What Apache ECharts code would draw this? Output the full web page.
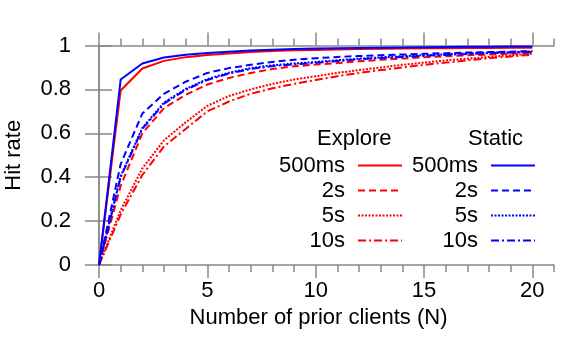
<!DOCTYPE html>
<html>
<head>
<meta charset="utf-8">
<script src="https://cdn.jsdelivr.net/npm/echarts@6/dist/echarts.min.js"></script>
<style>
  html, body { margin: 0; padding: 0; background: #fff; }
  #chart { width: 586px; height: 346px; }
</style>
</head>
<body>
<div id="chart"></div>
<script>
// number of prior clients
var priorClients = [0, 1, 2, 3, 4, 5, 6, 7, 8, 9, 10, 11, 12, 13, 14, 15, 16, 17, 18, 19, 20];

// Explore (red)
var explore500ms = [0, 0.795, 0.895, 0.93, 0.947, 0.957, 0.964, 0.97, 0.975, 0.978, 0.98, 0.982, 0.984, 0.985, 0.986, 0.987, 0.988, 0.989, 0.989, 0.99, 0.99];
var explore2s = [0, 0.36, 0.60, 0.715, 0.775, 0.822, 0.852, 0.875, 0.893, 0.905, 0.913, 0.92, 0.928, 0.935, 0.941, 0.946, 0.951, 0.955, 0.959, 0.963, 0.966];
var explore5s = [0, 0.25, 0.44, 0.568, 0.65, 0.725, 0.77, 0.80, 0.825, 0.845, 0.86, 0.875, 0.888, 0.90, 0.912, 0.922, 0.932, 0.94, 0.948, 0.956, 0.963];
var explore10s = [0, 0.23, 0.41, 0.54, 0.62, 0.70, 0.745, 0.78, 0.805, 0.825, 0.843, 0.86, 0.875, 0.888, 0.90, 0.912, 0.922, 0.932, 0.942, 0.95, 0.958];

// Static (blue)
var static500ms = [0, 0.845, 0.918, 0.945, 0.958, 0.966, 0.972, 0.977, 0.981, 0.984, 0.986, 0.988, 0.989, 0.99, 0.991, 0.992, 0.993, 0.994, 0.994, 0.995, 0.995];
var static2s = [0, 0.46, 0.69, 0.78, 0.835, 0.875, 0.897, 0.912, 0.925, 0.935, 0.942, 0.948, 0.952, 0.956, 0.959, 0.962, 0.965, 0.968, 0.97, 0.972, 0.975];
var static5s = [0, 0.405, 0.625, 0.74, 0.802, 0.847, 0.876, 0.897, 0.91, 0.918, 0.925, 0.933, 0.94, 0.946, 0.951, 0.956, 0.96, 0.964, 0.967, 0.97, 0.973];
var static10s = [0, 0.40, 0.62, 0.735, 0.798, 0.843, 0.872, 0.893, 0.906, 0.914, 0.921, 0.929, 0.937, 0.943, 0.948, 0.953, 0.957, 0.961, 0.965, 0.968, 0.971];

var xMajorTicks = [0, 5, 10, 15, 20];
var xMinorTicks = [0, 1, 2, 3, 4, 5, 6, 7, 8, 9, 10, 11, 12, 13, 14, 15, 16, 17, 18, 19, 20, 21];
var yTicks = [0, 0.2, 0.4, 0.6, 0.8, 1];

var font = 'Liberation Sans, Arial, sans-serif';
var frame = { show: true, lineStyle: { color: '#888', width: 1.5 } };
var tickStyle = { color: '#888', width: 1.5 };

function pairs(vals) {
  return vals.map(function (v, i) { return [priorClients[i], v]; });
}

function line(name, vals, color, dash) {
  return {
    name: name,
    type: 'line',
    data: pairs(vals),
    symbol: 'none',
    lineStyle: { color: color, width: 2, type: dash },
    itemStyle: { color: color },
    animation: false
  };
}

function xAxis(pos, ticks, len, showLine, showLabel) {
  return {
    type: 'value',
    position: pos,
    min: 0,
    max: 21,
    axisLine: showLine ? frame : { show: false },
    axisTick: { show: true, inside: false, length: len, customValues: ticks, lineStyle: tickStyle },
    axisLabel: showLabel ? { show: true, customValues: xMajorTicks, fontSize: 22, fontFamily: font, color: '#000', margin: 15 } : { show: false },
    splitLine: { show: false }
  };
}

var chart = echarts.init(document.getElementById('chart'));
var dashed = [7, 4];
var dotted = [2, 1.5];
var dashDot = [8, 3, 2, 3];

var legendBase = {
  orient: 'vertical',
  align: 'right',
  itemWidth: 44,
  itemHeight: 14,
  itemGap: 0,
  selectedMode: false,
  itemStyle: { opacity: 0 },
  formatter: function (name) { return name.split(' ')[1]; },
  textStyle: { fontSize: 22, fontFamily: font, color: '#000', lineHeight: 25, padding: [0, 8, 0, 0] }
};

chart.setOption({
  animation: false,
  textStyle: { fontFamily: font },
  grid: { left: 99, right: 32, top: 45.5, bottom: 81, containLabel: false, outerBoundsMode: 'none' },
  xAxis: [
    Object.assign(xAxis('bottom', xMinorTicks, 7, true, true), {
      name: 'Number of prior clients (N)',
      nameLocation: 'middle',
      nameGap: 32,
      nameTextStyle: { fontSize: 22, fontFamily: font, color: '#000', padding: [0, 16, 0, 0] }
    }),
    xAxis('bottom', xMajorTicks, 13, false, false),
    xAxis('top', xMinorTicks, 7, true, false),
    xAxis('top', xMajorTicks, 13, false, false)
  ],
  yAxis: [
    {
      type: 'value', position: 'left', min: 0, max: 1, interval: 0.2,
      axisLine: frame,
      axisTick: { show: true, length: 14, customValues: yTicks, lineStyle: tickStyle },
      axisLabel: { fontSize: 22, fontFamily: font, color: '#000', margin: 28 },
      splitLine: { show: false },
      name: 'Hit rate',
      nameLocation: 'middle',
      nameGap: 74,
      nameTextStyle: { fontSize: 22, fontFamily: font, color: '#000' }
    },
    {
      type: 'value', position: 'right', min: 0, max: 1, interval: 0.2,
      axisLine: frame,
      axisTick: { show: true, length: 13, customValues: yTicks, lineStyle: tickStyle },
      axisLabel: { show: false },
      splitLine: { show: false }
    }
  ],
  legend: [
    Object.assign({}, legendBase, {
      left: 274, top: 148,
      data: ['Explore 500ms', 'Explore 2s', 'Explore 5s', 'Explore 10s']
    }),
    Object.assign({}, legendBase, {
      left: 407, top: 148,
      data: ['Static 500ms', 'Static 2s', 'Static 5s', 'Static 10s']
    })
  ],
  graphic: [
    { type: 'text', left: 317, top: 128, style: { text: 'Explore', font: '22px ' + font, fill: '#000' } },
    { type: 'text', left: 468, top: 128, style: { text: 'Static', font: '22px ' + font, fill: '#000' } }
  ],
  series: [
    line('Explore 500ms', explore500ms, '#ff0000', 'solid'),
    line('Explore 2s', explore2s, '#ff0000', dashed),
    line('Explore 5s', explore5s, '#ff0000', dotted),
    line('Explore 10s', explore10s, '#ff0000', dashDot),
    line('Static 500ms', static500ms, '#0000ff', 'solid'),
    line('Static 2s', static2s, '#0000ff', dashed),
    line('Static 5s', static5s, '#0000ff', dotted),
    line('Static 10s', static10s, '#0000ff', dashDot)
  ]
});
</script>
</body>
</html>
